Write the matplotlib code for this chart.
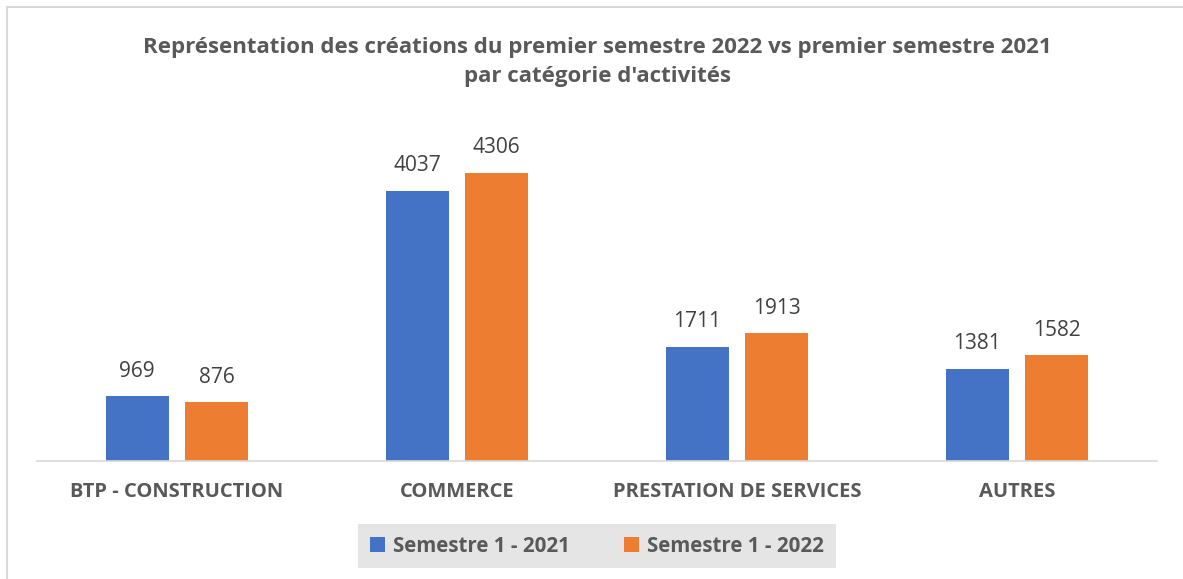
from matplotlib import pyplot as plt
from matplotlib.patches import Rectangle
import numpy as np

CATEGORIES = ["BTP - CONSTRUCTION", "COMMERCE", "PRESTATION DE SERVICES", "AUTRES"]
SEM_2021 = [969, 4037, 1711, 1381]
SEM_2022 = [876, 4306, 1913, 1582]
SERIES = ["Semestre 1 - 2021", "Semestre 1 - 2022"]
TITLE = ("Représentation des créations du premier semestre 2022 vs premier semestre 2021\n"
         "par catégorie d'activités")

BLUE = "#4472C4"
ORANGE = "#ED7D31"
GREY = "#595959"
FONT = "Open Sans"

W, H = 1183, 579
plt.rcParams["font.family"] = [FONT, "DejaVu Sans"]
fig = plt.figure(figsize=(W / 100, H / 100), dpi=100)
ax = fig.add_axes([37 / W, 118 / H, 1120 / W, 334.5 / H])

x = np.arange(len(CATEGORIES))
width = 0.225
b1 = ax.bar(x - 0.142, SEM_2021, width, color=BLUE, label=SERIES[0])
b2 = ax.bar(x + 0.142, SEM_2022, width, color=ORANGE, label=SERIES[1])
for bars in (b1, b2):
    for rect, v in zip(bars, bars.datavalues):
        ax.annotate(str(int(v)), (rect.get_x() + rect.get_width() / 2, v),
                    xytext=(0, 18), textcoords="offset points",
                    ha="center", va="center", fontsize=15, color="#404040")

ax.set_xlim(-0.5, len(CATEGORIES) - 0.5)
ax.set_ylim(0, 5000)
ax.set_xticks(x)
ax.set_xticklabels(CATEGORIES, fontsize=14.5, fontweight="bold", color=GREY)
ax.tick_params(axis="x", length=0, pad=15)
ax.set_yticks([])
for s in ["top", "right", "left"]:
    ax.spines[s].set_visible(False)
ax.spines["bottom"].set_color("#d9d9d9")
ax.spines["bottom"].set_linewidth(1.2)

fig.text(597 / W, 1 - 62 / H, TITLE, ha="center", va="center",
         fontsize=16, fontweight="bold", color=GREY, linespacing=1.45)

leg = fig.legend(loc="center", bbox_to_anchor=(597 / W, 1 - 546 / H), ncol=2,
                 frameon=True, fancybox=False, facecolor="#e5e5e5", edgecolor="none",
                 handlelength=0.75, handleheight=0.75, handletextpad=0.4,
                 columnspacing=2.6, borderpad=0.55, borderaxespad=0,
                 prop={"weight": "bold", "size": 14.8})
for t in leg.get_texts():
    t.set_color(GREY)
leg.get_frame().set_alpha(1)

# outer chart border (top and left edges visible)
fig.add_artist(Rectangle((7 / W, -0.1), 1.1, 1 - 7 / H + 0.1, transform=fig.transFigure,
                         fill=False, edgecolor="#d9d9d9", linewidth=1.5))

plt.savefig("out.png", dpi=100)
plt.close()
